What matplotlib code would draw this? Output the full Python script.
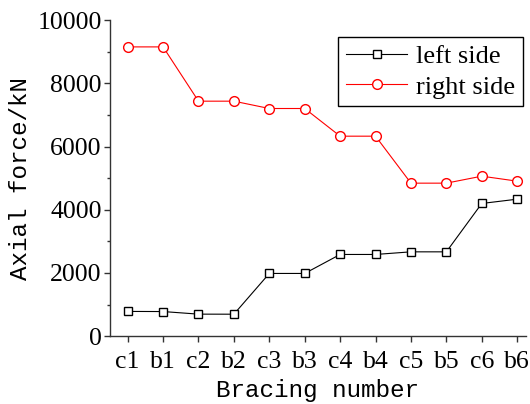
import matplotlib
matplotlib.use("Agg")
import matplotlib.pyplot as plt
import matplotlib.ticker as ticker

# bracing members along the frame
bracing = ["c1", "b1", "c2", "b2", "c3", "b3", "c4", "b4", "c5", "b5", "c6", "b6"]
left_side = [782, 778, 696, 694, 1984, 1984, 2585, 2585, 2668, 2668, 4199, 4335]
right_side = [9155, 9155, 7437, 7437, 7205, 7205, 6329, 6329, 4842, 4842, 5063, 4905]

serif = "Liberation Serif"
mono = "Liberation Mono"

fig = plt.figure(figsize=(5.3, 4.04), dpi=100)
ax = fig.add_axes([0.2075, 0.168, 0.785, 0.782])

x = list(range(len(bracing)))
ax.plot(x, left_side, color="black", lw=0.8, marker="s", ms=6,
        mfc="white", mec="black", mew=1.0, label="left side")
ax.plot(x, right_side, color="red", lw=0.8, marker="o", ms=7,
        mfc="white", mec="red", mew=1.0, label="right side")

ax.set_xlim(-0.5, 11.25)
ax.set_ylim(0, 10000)
ax.set_xticks(x)
ax.set_xticklabels(bracing, fontfamily=serif, fontsize=18.5)
ax.yaxis.set_major_locator(ticker.MultipleLocator(2000))
ax.yaxis.set_minor_locator(ticker.MultipleLocator(1000))
for lab in ax.get_yticklabels():
    lab.set_fontfamily(serif)
    lab.set_fontsize(18.5)

ax.spines["top"].set_visible(False)
ax.spines["right"].set_visible(False)
for s in ("left", "bottom"):
    ax.spines[s].set_linewidth(1.0)
    ax.spines[s].set_color("#333333")
ax.tick_params(axis="both", which="major", direction="out", length=4,
               width=1.0, color="#333333")
ax.tick_params(axis="x", which="major", pad=7)
ax.tick_params(axis="y", which="major", pad=2)
ax.tick_params(axis="y", which="minor", direction="out", length=2.5,
               width=1.0, color="#333333")

ax.set_xlabel("Bracing number", fontfamily=mono, fontsize=17.5, labelpad=4)
ax.set_ylabel("Axial force/kN", fontfamily=mono, fontsize=17.5, labelpad=4)

leg = ax.legend(loc="upper right", bbox_to_anchor=(1.0, 0.955),
                prop={"family": serif, "size": 19}, fancybox=False,
                framealpha=1, edgecolor="black", handlelength=2.3,
                handletextpad=0.35, borderpad=0.3, labelspacing=0.25,
                borderaxespad=0.1)
leg.get_frame().set_linewidth(1.0)

fig.savefig("out.png", dpi=100)
